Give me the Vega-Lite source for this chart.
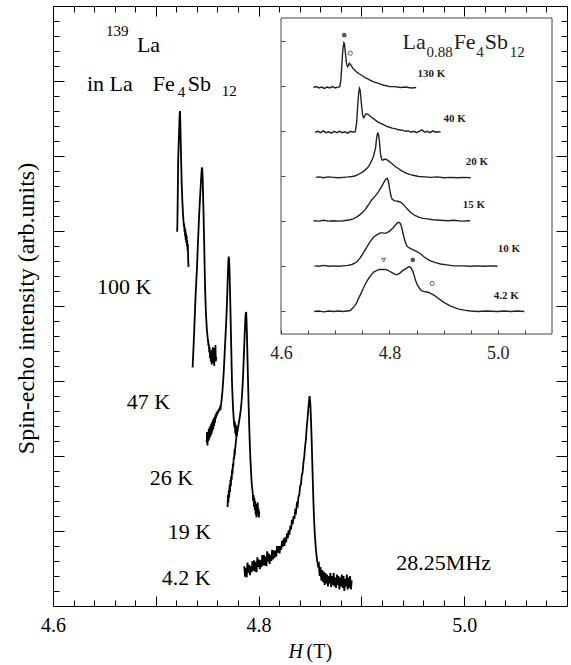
{
  "$schema": "https://vega.github.io/schema/vega-lite/v6.json",
  "width": 514,
  "height": 600,
  "autosize": {"type": "none"},
  "padding": {"left": 53, "top": 6, "right": 4, "bottom": 59},
  "background": "white",
  "config": {
    "view": {"stroke": "black", "strokeWidth": 1},
    "font": "Liberation Serif",
    "axis": {"grid": false, "domain": false, "tickColor": "black", "tickWidth": 1, "labelFont": "Liberation Serif", "labelColor": "black", "titleFont": "Liberation Serif", "titleColor": "black", "titleFontWeight": "normal", "labelOverlap": false, "labelFlush": false}
  },
  "datasets": {
    "spectra": [
      {"T":"100 K","H":4.7208,"v":4.99},{"T":"100 K","H":4.7210,"v":5.10},{"T":"100 K","H":4.7212,"v":5.30},{"T":"100 K","H":4.7214,"v":5.52},{"T":"100 K","H":4.7216,"v":5.75},{"T":"100 K","H":4.7218,"v":5.97},{"T":"100 K","H":4.7221,"v":6.10},{"T":"100 K","H":4.7224,"v":6.22},{"T":"100 K","H":4.7227,"v":6.33},{"T":"100 K","H":4.7230,"v":6.47},{"T":"100 K","H":4.7233,"v":6.58},{"T":"100 K","H":4.7235,"v":6.60},{"T":"100 K","H":4.7237,"v":6.52},{"T":"100 K","H":4.7240,"v":6.36},{"T":"100 K","H":4.7243,"v":6.15},{"T":"100 K","H":4.7246,"v":5.96},{"T":"100 K","H":4.7249,"v":5.80},{"T":"100 K","H":4.7252,"v":5.62},{"T":"100 K","H":4.7255,"v":5.52},{"T":"100 K","H":4.7258,"v":5.40},{"T":"100 K","H":4.7261,"v":5.33},{"T":"100 K","H":4.7264,"v":5.24},{"T":"100 K","H":4.7267,"v":5.18},{"T":"100 K","H":4.7270,"v":5.12},{"T":"100 K","H":4.7273,"v":5.06},{"T":"100 K","H":4.7276,"v":5.10},{"T":"100 K","H":4.7279,"v":4.99},{"T":"100 K","H":4.7282,"v":5.05},{"T":"100 K","H":4.7285,"v":4.93},{"T":"100 K","H":4.7288,"v":5.02},{"T":"100 K","H":4.7291,"v":4.88},{"T":"100 K","H":4.7294,"v":4.97},{"T":"100 K","H":4.7297,"v":4.84},{"T":"100 K","H":4.7300,"v":4.94},{"T":"100 K","H":4.7303,"v":4.80},{"T":"100 K","H":4.7306,"v":4.88},{"T":"100 K","H":4.7309,"v":4.74},{"T":"100 K","H":4.7312,"v":4.82},{"T":"100 K","H":4.7315,"v":4.62},{"T":"100 K","H":4.7318,"v":4.52},
      {"T":"47 K","H":4.7358,"v":3.18},{"T":"47 K","H":4.7362,"v":3.30},{"T":"47 K","H":4.7366,"v":3.42},{"T":"47 K","H":4.7370,"v":3.55},{"T":"47 K","H":4.7375,"v":3.72},{"T":"47 K","H":4.7380,"v":3.90},{"T":"47 K","H":4.7385,"v":4.07},{"T":"47 K","H":4.7390,"v":4.22},{"T":"47 K","H":4.7395,"v":4.36},{"T":"47 K","H":4.7400,"v":4.49},{"T":"47 K","H":4.7405,"v":4.66},{"T":"47 K","H":4.7410,"v":4.84},{"T":"47 K","H":4.7415,"v":5.00},{"T":"47 K","H":4.7420,"v":5.17},{"T":"47 K","H":4.7425,"v":5.30},{"T":"47 K","H":4.7430,"v":5.44},{"T":"47 K","H":4.7435,"v":5.55},{"T":"47 K","H":4.7440,"v":5.68},{"T":"47 K","H":4.7445,"v":5.79},{"T":"47 K","H":4.7449,"v":5.85},{"T":"47 K","H":4.7453,"v":5.80},{"T":"47 K","H":4.7457,"v":5.66},{"T":"47 K","H":4.7461,"v":5.42},{"T":"47 K","H":4.7465,"v":5.20},{"T":"47 K","H":4.7468,"v":5.00},{"T":"47 K","H":4.7471,"v":4.82},{"T":"47 K","H":4.7474,"v":4.60},{"T":"47 K","H":4.7477,"v":4.40},{"T":"47 K","H":4.7480,"v":4.22},{"T":"47 K","H":4.7484,"v":4.05},{"T":"47 K","H":4.7488,"v":3.90},{"T":"47 K","H":4.7492,"v":3.80},{"T":"47 K","H":4.7496,"v":3.70},{"T":"47 K","H":4.7500,"v":3.64},{"T":"47 K","H":4.7504,"v":3.58},{"T":"47 K","H":4.7508,"v":3.54},{"T":"47 K","H":4.7512,"v":3.47},{"T":"47 K","H":4.7516,"v":3.50},{"T":"47 K","H":4.7520,"v":3.38},{"T":"47 K","H":4.7524,"v":3.45},{"T":"47 K","H":4.7528,"v":3.30},{"T":"47 K","H":4.7532,"v":3.40},{"T":"47 K","H":4.7536,"v":3.26},{"T":"47 K","H":4.7540,"v":3.36},{"T":"47 K","H":4.7544,"v":3.22},{"T":"47 K","H":4.7548,"v":3.42},{"T":"47 K","H":4.7552,"v":3.30},{"T":"47 K","H":4.7556,"v":3.45},{"T":"47 K","H":4.7560,"v":3.24},{"T":"47 K","H":4.7564,"v":3.38},{"T":"47 K","H":4.7568,"v":3.20},{"T":"47 K","H":4.7572,"v":3.44},{"T":"47 K","H":4.7576,"v":3.28},{"T":"47 K","H":4.7580,"v":3.48},{"T":"47 K","H":4.7584,"v":3.26},{"T":"47 K","H":4.7588,"v":3.32},
      {"T":"26 K","H":4.7495,"v":2.18},{"T":"26 K","H":4.7499,"v":2.32},{"T":"26 K","H":4.7503,"v":2.14},{"T":"26 K","H":4.7507,"v":2.30},{"T":"26 K","H":4.7511,"v":2.20},{"T":"26 K","H":4.7515,"v":2.36},{"T":"26 K","H":4.7519,"v":2.22},{"T":"26 K","H":4.7523,"v":2.38},{"T":"26 K","H":4.7527,"v":2.25},{"T":"26 K","H":4.7531,"v":2.40},{"T":"26 K","H":4.7535,"v":2.27},{"T":"26 K","H":4.7539,"v":2.43},{"T":"26 K","H":4.7543,"v":2.30},{"T":"26 K","H":4.7547,"v":2.45},{"T":"26 K","H":4.7551,"v":2.33},{"T":"26 K","H":4.7555,"v":2.48},{"T":"26 K","H":4.7559,"v":2.36},{"T":"26 K","H":4.7563,"v":2.50},{"T":"26 K","H":4.7567,"v":2.40},{"T":"26 K","H":4.7571,"v":2.52},{"T":"26 K","H":4.7575,"v":2.44},{"T":"26 K","H":4.7580,"v":2.55},{"T":"26 K","H":4.7585,"v":2.50},{"T":"26 K","H":4.7590,"v":2.58},{"T":"26 K","H":4.7595,"v":2.54},{"T":"26 K","H":4.7600,"v":2.60},{"T":"26 K","H":4.7606,"v":2.57},{"T":"26 K","H":4.7612,"v":2.63},{"T":"26 K","H":4.7618,"v":2.60},{"T":"26 K","H":4.7624,"v":2.64},{"T":"26 K","H":4.7630,"v":2.62},{"T":"26 K","H":4.7636,"v":2.70},{"T":"26 K","H":4.7642,"v":2.77},{"T":"26 K","H":4.7648,"v":2.86},{"T":"26 K","H":4.7654,"v":2.97},{"T":"26 K","H":4.7660,"v":3.10},{"T":"26 K","H":4.7666,"v":3.26},{"T":"26 K","H":4.7672,"v":3.43},{"T":"26 K","H":4.7678,"v":3.60},{"T":"26 K","H":4.7684,"v":3.76},{"T":"26 K","H":4.7690,"v":3.96},{"T":"26 K","H":4.7695,"v":4.16},{"T":"26 K","H":4.7700,"v":4.38},{"T":"26 K","H":4.7705,"v":4.57},{"T":"26 K","H":4.7709,"v":4.66},{"T":"26 K","H":4.7713,"v":4.62},{"T":"26 K","H":4.7717,"v":4.48},{"T":"26 K","H":4.7721,"v":4.26},{"T":"26 K","H":4.7725,"v":4.02},{"T":"26 K","H":4.7729,"v":3.76},{"T":"26 K","H":4.7733,"v":3.50},{"T":"26 K","H":4.7737,"v":3.24},{"T":"26 K","H":4.7741,"v":3.00},{"T":"26 K","H":4.7745,"v":2.84},{"T":"26 K","H":4.7749,"v":2.72},{"T":"26 K","H":4.7753,"v":2.60},{"T":"26 K","H":4.7757,"v":2.52},{"T":"26 K","H":4.7761,"v":2.44},{"T":"26 K","H":4.7765,"v":2.38},{"T":"26 K","H":4.7769,"v":2.46},{"T":"26 K","H":4.7773,"v":2.30},{"T":"26 K","H":4.7777,"v":2.42},{"T":"26 K","H":4.7781,"v":2.26},{"T":"26 K","H":4.7785,"v":2.40},{"T":"26 K","H":4.7789,"v":2.28},{"T":"26 K","H":4.7793,"v":2.36},
      {"T":"19 K","H":4.7698,"v":1.32},{"T":"19 K","H":4.7702,"v":1.48},{"T":"19 K","H":4.7706,"v":1.38},{"T":"19 K","H":4.7710,"v":1.55},{"T":"19 K","H":4.7714,"v":1.45},{"T":"19 K","H":4.7718,"v":1.62},{"T":"19 K","H":4.7722,"v":1.52},{"T":"19 K","H":4.7726,"v":1.68},{"T":"19 K","H":4.7730,"v":1.60},{"T":"19 K","H":4.7734,"v":1.74},{"T":"19 K","H":4.7738,"v":1.68},{"T":"19 K","H":4.7742,"v":1.82},{"T":"19 K","H":4.7746,"v":1.76},{"T":"19 K","H":4.7750,"v":1.90},{"T":"19 K","H":4.7754,"v":1.86},{"T":"19 K","H":4.7758,"v":1.98},{"T":"19 K","H":4.7762,"v":1.96},{"T":"19 K","H":4.7766,"v":2.06},{"T":"19 K","H":4.7770,"v":2.05},{"T":"19 K","H":4.7775,"v":2.14},{"T":"19 K","H":4.7780,"v":2.20},{"T":"19 K","H":4.7785,"v":2.26},{"T":"19 K","H":4.7790,"v":2.30},{"T":"19 K","H":4.7795,"v":2.34},{"T":"19 K","H":4.7800,"v":2.38},{"T":"19 K","H":4.7805,"v":2.42},{"T":"19 K","H":4.7810,"v":2.46},{"T":"19 K","H":4.7815,"v":2.50},{"T":"19 K","H":4.7820,"v":2.55},{"T":"19 K","H":4.7825,"v":2.60},{"T":"19 K","H":4.7830,"v":2.66},{"T":"19 K","H":4.7835,"v":2.74},{"T":"19 K","H":4.7840,"v":2.84},{"T":"19 K","H":4.7845,"v":2.96},{"T":"19 K","H":4.7850,"v":3.10},{"T":"19 K","H":4.7855,"v":3.28},{"T":"19 K","H":4.7860,"v":3.46},{"T":"19 K","H":4.7865,"v":3.64},{"T":"19 K","H":4.7870,"v":3.80},{"T":"19 K","H":4.7875,"v":3.90},{"T":"19 K","H":4.7879,"v":3.92},{"T":"19 K","H":4.7883,"v":3.80},{"T":"19 K","H":4.7887,"v":3.60},{"T":"19 K","H":4.7891,"v":3.36},{"T":"19 K","H":4.7895,"v":3.12},{"T":"19 K","H":4.7899,"v":2.90},{"T":"19 K","H":4.7903,"v":2.68},{"T":"19 K","H":4.7907,"v":2.48},{"T":"19 K","H":4.7911,"v":2.30},{"T":"19 K","H":4.7915,"v":2.14},{"T":"19 K","H":4.7919,"v":2.00},{"T":"19 K","H":4.7923,"v":1.88},{"T":"19 K","H":4.7927,"v":1.78},{"T":"19 K","H":4.7931,"v":1.68},{"T":"19 K","H":4.7935,"v":1.60},{"T":"19 K","H":4.7939,"v":1.56},{"T":"19 K","H":4.7943,"v":1.50},{"T":"19 K","H":4.7947,"v":1.40},{"T":"19 K","H":4.7951,"v":1.48},{"T":"19 K","H":4.7955,"v":1.32},{"T":"19 K","H":4.7959,"v":1.44},{"T":"19 K","H":4.7963,"v":1.28},{"T":"19 K","H":4.7967,"v":1.40},{"T":"19 K","H":4.7971,"v":1.22},{"T":"19 K","H":4.7975,"v":1.36},{"T":"19 K","H":4.7979,"v":1.18},{"T":"19 K","H":4.7983,"v":1.34},{"T":"19 K","H":4.7987,"v":1.20},{"T":"19 K","H":4.7991,"v":1.38},{"T":"19 K","H":4.7995,"v":1.24},{"T":"19 K","H":4.7999,"v":1.30},{"T":"19 K","H":4.8003,"v":1.18},{"T":"19 K","H":4.8007,"v":1.26},
      {"T":"4.2 K","H":4.7860,"v":0.53},{"T":"4.2 K","H":4.7868,"v":0.39},{"T":"4.2 K","H":4.7876,"v":0.51},{"T":"4.2 K","H":4.7884,"v":0.38},{"T":"4.2 K","H":4.7892,"v":0.58},{"T":"4.2 K","H":4.7900,"v":0.44},{"T":"4.2 K","H":4.7908,"v":0.55},{"T":"4.2 K","H":4.7916,"v":0.41},{"T":"4.2 K","H":4.7924,"v":0.53},{"T":"4.2 K","H":4.7932,"v":0.45},{"T":"4.2 K","H":4.7940,"v":0.60},{"T":"4.2 K","H":4.7948,"v":0.47},{"T":"4.2 K","H":4.7956,"v":0.61},{"T":"4.2 K","H":4.7964,"v":0.46},{"T":"4.2 K","H":4.7972,"v":0.59},{"T":"4.2 K","H":4.7980,"v":0.45},{"T":"4.2 K","H":4.7988,"v":0.65},{"T":"4.2 K","H":4.7996,"v":0.52},{"T":"4.2 K","H":4.8004,"v":0.62},{"T":"4.2 K","H":4.8012,"v":0.49},{"T":"4.2 K","H":4.8020,"v":0.61},{"T":"4.2 K","H":4.8028,"v":0.52},{"T":"4.2 K","H":4.8036,"v":0.68},{"T":"4.2 K","H":4.8044,"v":0.54},{"T":"4.2 K","H":4.8052,"v":0.68},{"T":"4.2 K","H":4.8060,"v":0.54},{"T":"4.2 K","H":4.8068,"v":0.66},{"T":"4.2 K","H":4.8076,"v":0.53},{"T":"4.2 K","H":4.8084,"v":0.73},{"T":"4.2 K","H":4.8092,"v":0.59},{"T":"4.2 K","H":4.8100,"v":0.70},{"T":"4.2 K","H":4.8108,"v":0.56},{"T":"4.2 K","H":4.8116,"v":0.68},{"T":"4.2 K","H":4.8124,"v":0.60},{"T":"4.2 K","H":4.8132,"v":0.75},{"T":"4.2 K","H":4.8140,"v":0.62},{"T":"4.2 K","H":4.8148,"v":0.74},{"T":"4.2 K","H":4.8156,"v":0.64},{"T":"4.2 K","H":4.8164,"v":0.74},{"T":"4.2 K","H":4.8172,"v":0.66},{"T":"4.2 K","H":4.8180,"v":0.80},{"T":"4.2 K","H":4.8188,"v":0.71},{"T":"4.2 K","H":4.8196,"v":0.80},{"T":"4.2 K","H":4.8204,"v":0.70},{"T":"4.2 K","H":4.8212,"v":0.80},{"T":"4.2 K","H":4.8220,"v":0.75},{"T":"4.2 K","H":4.8228,"v":0.87},{"T":"4.2 K","H":4.8236,"v":0.79},{"T":"4.2 K","H":4.8244,"v":0.90},{"T":"4.2 K","H":4.8252,"v":0.80},{"T":"4.2 K","H":4.8260,"v":0.92},{"T":"4.2 K","H":4.8268,"v":0.85},{"T":"4.2 K","H":4.8276,"v":0.97},{"T":"4.2 K","H":4.8284,"v":0.90},{"T":"4.2 K","H":4.8292,"v":1.01},{"T":"4.2 K","H":4.8300,"v":0.95},{"T":"4.2 K","H":4.8308,"v":1.07},{"T":"4.2 K","H":4.8316,"v":1.02},{"T":"4.2 K","H":4.8324,"v":1.15},{"T":"4.2 K","H":4.8332,"v":1.09},{"T":"4.2 K","H":4.8340,"v":1.20},{"T":"4.2 K","H":4.8348,"v":1.16},{"T":"4.2 K","H":4.8356,"v":1.27},{"T":"4.2 K","H":4.8364,"v":1.25},{"T":"4.2 K","H":4.8372,"v":1.36},{"T":"4.2 K","H":4.8380,"v":1.34},{"T":"4.2 K","H":4.8388,"v":1.46},{"T":"4.2 K","H":4.8396,"v":1.48},{"T":"4.2 K","H":4.8404,"v":1.60},{"T":"4.2 K","H":4.8412,"v":1.62},{"T":"4.2 K","H":4.8420,"v":1.74},{"T":"4.2 K","H":4.8428,"v":1.78},{"T":"4.2 K","H":4.8436,"v":1.91},{"T":"4.2 K","H":4.8444,"v":1.99},{"T":"4.2 K","H":4.8452,"v":2.12},{"T":"4.2 K","H":4.8460,"v":2.22},{"T":"4.2 K","H":4.8468,"v":2.38},{"T":"4.2 K","H":4.8476,"v":2.49},{"T":"4.2 K","H":4.8484,"v":2.64},{"T":"4.2 K","H":4.8490,"v":2.72},{"T":"4.2 K","H":4.8495,"v":2.80},{"T":"4.2 K","H":4.8500,"v":2.76},{"T":"4.2 K","H":4.8505,"v":2.64},{"T":"4.2 K","H":4.8510,"v":2.46},{"T":"4.2 K","H":4.8515,"v":2.26},{"T":"4.2 K","H":4.8520,"v":2.02},{"T":"4.2 K","H":4.8525,"v":1.78},{"T":"4.2 K","H":4.8530,"v":1.54},{"T":"4.2 K","H":4.8535,"v":1.32},{"T":"4.2 K","H":4.8540,"v":1.14},{"T":"4.2 K","H":4.8547,"v":0.95},{"T":"4.2 K","H":4.8555,"v":0.80},{"T":"4.2 K","H":4.8563,"v":0.68},{"T":"4.2 K","H":4.8570,"v":0.60},{"T":"4.2 K","H":4.8578,"v":0.54},{"T":"4.2 K","H":4.8586,"v":0.56},{"T":"4.2 K","H":4.8594,"v":0.40},{"T":"4.2 K","H":4.8602,"v":0.52},{"T":"4.2 K","H":4.8610,"v":0.34},{"T":"4.2 K","H":4.8618,"v":0.48},{"T":"4.2 K","H":4.8626,"v":0.32},{"T":"4.2 K","H":4.8634,"v":0.46},{"T":"4.2 K","H":4.8642,"v":0.28},{"T":"4.2 K","H":4.8650,"v":0.44},{"T":"4.2 K","H":4.8658,"v":0.30},{"T":"4.2 K","H":4.8666,"v":0.42},{"T":"4.2 K","H":4.8674,"v":0.26},{"T":"4.2 K","H":4.8682,"v":0.40},{"T":"4.2 K","H":4.8690,"v":0.30},{"T":"4.2 K","H":4.8698,"v":0.44},{"T":"4.2 K","H":4.8706,"v":0.25},{"T":"4.2 K","H":4.8714,"v":0.40},{"T":"4.2 K","H":4.8722,"v":0.28},{"T":"4.2 K","H":4.8730,"v":0.44},{"T":"4.2 K","H":4.8738,"v":0.26},{"T":"4.2 K","H":4.8746,"v":0.38},{"T":"4.2 K","H":4.8754,"v":0.24},{"T":"4.2 K","H":4.8762,"v":0.42},{"T":"4.2 K","H":4.8770,"v":0.28},{"T":"4.2 K","H":4.8778,"v":0.40},{"T":"4.2 K","H":4.8786,"v":0.22},{"T":"4.2 K","H":4.8794,"v":0.38},{"T":"4.2 K","H":4.8802,"v":0.26},{"T":"4.2 K","H":4.8810,"v":0.42},{"T":"4.2 K","H":4.8818,"v":0.24},{"T":"4.2 K","H":4.8826,"v":0.40},{"T":"4.2 K","H":4.8834,"v":0.20},{"T":"4.2 K","H":4.8842,"v":0.36},{"T":"4.2 K","H":4.8850,"v":0.26},{"T":"4.2 K","H":4.8858,"v":0.42},{"T":"4.2 K","H":4.8866,"v":0.22},{"T":"4.2 K","H":4.8874,"v":0.38},{"T":"4.2 K","H":4.8882,"v":0.24},{"T":"4.2 K","H":4.8890,"v":0.40},{"T":"4.2 K","H":4.8898,"v":0.22},{"T":"4.2 K","H":4.8906,"v":0.34}
    ],
    "mainLabels": [
      {"label":"100 K","H":4.6427,"v":4.25},
      {"label":"47 K","H":4.6718,"v":2.72},
      {"label":"26 K","H":4.6942,"v":1.71},
      {"label":"19 K","H":4.7117,"v":0.99},
      {"label":"4.2 K","H":4.7058,"v":0.37},
      {"label":"28.25MHz","H":4.934,"v":0.57},
      {"label":"La","H":4.6816,"v":7.48},
      {"label":"in La","H":4.633,"v":6.96},
      {"label":"Fe","H":4.6971,"v":6.96},
      {"label":"Sb","H":4.7311,"v":6.96}
    ],
    "mainScripts": [
      {"label":"139","H":4.6515,"v":7.667},
      {"label":"4","H":4.7214,"v":6.853},
      {"label":"12","H":4.7641,"v":6.867}
    ],
    "inset": [
      {"T":"130 K","H":4.6599,"v":4.96},{"T":"130 K","H":4.6650,"v":4.98},{"T":"130 K","H":4.6700,"v":4.95},{"T":"130 K","H":4.6750,"v":4.97},{"T":"130 K","H":4.6800,"v":4.94},{"T":"130 K","H":4.6850,"v":4.97},{"T":"130 K","H":4.6900,"v":4.95},{"T":"130 K","H":4.6950,"v":4.98},{"T":"130 K","H":4.7000,"v":4.95},{"T":"130 K","H":4.7050,"v":4.97},{"T":"130 K","H":4.7085,"v":4.98},{"T":"130 K","H":4.7105,"v":5.13},{"T":"130 K","H":4.7120,"v":5.40},{"T":"130 K","H":4.7135,"v":5.70},{"T":"130 K","H":4.7148,"v":5.87},{"T":"130 K","H":4.7160,"v":5.95},{"T":"130 K","H":4.7170,"v":5.93},{"T":"130 K","H":4.7180,"v":5.82},{"T":"130 K","H":4.7191,"v":5.70},{"T":"130 K","H":4.7205,"v":5.52},{"T":"130 K","H":4.7216,"v":5.46},{"T":"130 K","H":4.7230,"v":5.42},{"T":"130 K","H":4.7245,"v":5.45},{"T":"130 K","H":4.7262,"v":5.50},{"T":"130 K","H":4.7280,"v":5.47},{"T":"130 K","H":4.7300,"v":5.44},{"T":"130 K","H":4.7320,"v":5.40},{"T":"130 K","H":4.7340,"v":5.37},{"T":"130 K","H":4.7370,"v":5.33},{"T":"130 K","H":4.7400,"v":5.30},{"T":"130 K","H":4.7450,"v":5.26},{"T":"130 K","H":4.7500,"v":5.22},{"T":"130 K","H":4.7550,"v":5.18},{"T":"130 K","H":4.7600,"v":5.15},{"T":"130 K","H":4.7650,"v":5.12},{"T":"130 K","H":4.7700,"v":5.09},{"T":"130 K","H":4.7750,"v":5.07},{"T":"130 K","H":4.7800,"v":5.05},{"T":"130 K","H":4.7850,"v":5.03},{"T":"130 K","H":4.7900,"v":5.01},{"T":"130 K","H":4.7950,"v":5.00},{"T":"130 K","H":4.8000,"v":4.98},{"T":"130 K","H":4.8100,"v":4.98},{"T":"130 K","H":4.8200,"v":4.96},{"T":"130 K","H":4.8300,"v":4.97},{"T":"130 K","H":4.8400,"v":4.95},{"T":"130 K","H":4.8494,"v":4.96},
      {"T":"40 K","H":4.6630,"v":3.97},{"T":"40 K","H":4.6680,"v":3.99},{"T":"40 K","H":4.6730,"v":3.96},{"T":"40 K","H":4.6780,"v":4.00},{"T":"40 K","H":4.6830,"v":3.96},{"T":"40 K","H":4.6880,"v":3.98},{"T":"40 K","H":4.6930,"v":3.95},{"T":"40 K","H":4.6980,"v":3.99},{"T":"40 K","H":4.7030,"v":3.96},{"T":"40 K","H":4.7080,"v":3.99},{"T":"40 K","H":4.7130,"v":3.96},{"T":"40 K","H":4.7180,"v":3.98},{"T":"40 K","H":4.7230,"v":3.95},{"T":"40 K","H":4.7280,"v":3.99},{"T":"40 K","H":4.7330,"v":3.97},{"T":"40 K","H":4.7370,"v":3.98},{"T":"40 K","H":4.7395,"v":4.17},{"T":"40 K","H":4.7414,"v":4.53},{"T":"40 K","H":4.7432,"v":4.83},{"T":"40 K","H":4.7447,"v":4.94},{"T":"40 K","H":4.7460,"v":4.90},{"T":"40 K","H":4.7472,"v":4.76},{"T":"40 K","H":4.7490,"v":4.52},{"T":"40 K","H":4.7506,"v":4.36},{"T":"40 K","H":4.7520,"v":4.29},{"T":"40 K","H":4.7535,"v":4.30},{"T":"40 K","H":4.7550,"v":4.34},{"T":"40 K","H":4.7570,"v":4.38},{"T":"40 K","H":4.7590,"v":4.37},{"T":"40 K","H":4.7615,"v":4.36},{"T":"40 K","H":4.7640,"v":4.33},{"T":"40 K","H":4.7680,"v":4.29},{"T":"40 K","H":4.7720,"v":4.26},{"T":"40 K","H":4.7760,"v":4.22},{"T":"40 K","H":4.7800,"v":4.19},{"T":"40 K","H":4.7850,"v":4.16},{"T":"40 K","H":4.7900,"v":4.13},{"T":"40 K","H":4.7950,"v":4.10},{"T":"40 K","H":4.8000,"v":4.08},{"T":"40 K","H":4.8050,"v":4.06},{"T":"40 K","H":4.8100,"v":4.05},{"T":"40 K","H":4.8150,"v":4.03},{"T":"40 K","H":4.8200,"v":4.02},{"T":"40 K","H":4.8250,"v":4.01},{"T":"40 K","H":4.8300,"v":3.99},{"T":"40 K","H":4.8350,"v":4.00},{"T":"40 K","H":4.8400,"v":3.97},{"T":"40 K","H":4.8450,"v":3.99},{"T":"40 K","H":4.8500,"v":3.96},{"T":"40 K","H":4.8550,"v":3.99},{"T":"40 K","H":4.8600,"v":4.02},{"T":"40 K","H":4.8650,"v":3.97},{"T":"40 K","H":4.8700,"v":3.99},{"T":"40 K","H":4.8750,"v":3.96},{"T":"40 K","H":4.8800,"v":4.00},{"T":"40 K","H":4.8850,"v":3.97},{"T":"40 K","H":4.8944,"v":3.98},
      {"T":"20 K","H":4.6642,"v":2.97},{"T":"20 K","H":4.6700,"v":2.98},{"T":"20 K","H":4.6784,"v":2.96},{"T":"20 K","H":4.6870,"v":2.98},{"T":"20 K","H":4.6969,"v":2.97},{"T":"20 K","H":4.7060,"v":2.96},{"T":"20 K","H":4.7154,"v":2.97},{"T":"20 K","H":4.7240,"v":2.98},{"T":"20 K","H":4.7309,"v":2.99},{"T":"20 K","H":4.7360,"v":3.00},{"T":"20 K","H":4.7401,"v":3.02},{"T":"20 K","H":4.7450,"v":3.05},{"T":"20 K","H":4.7494,"v":3.08},{"T":"20 K","H":4.7540,"v":3.12},{"T":"20 K","H":4.7586,"v":3.17},{"T":"20 K","H":4.7620,"v":3.22},{"T":"20 K","H":4.7648,"v":3.28},{"T":"20 K","H":4.7680,"v":3.36},{"T":"20 K","H":4.7710,"v":3.45},{"T":"20 K","H":4.7730,"v":3.55},{"T":"20 K","H":4.7747,"v":3.64},{"T":"20 K","H":4.7760,"v":3.80},{"T":"20 K","H":4.7772,"v":3.90},{"T":"20 K","H":4.7785,"v":3.95},{"T":"20 K","H":4.7796,"v":3.94},{"T":"20 K","H":4.7808,"v":3.85},{"T":"20 K","H":4.7821,"v":3.70},{"T":"20 K","H":4.7833,"v":3.52},{"T":"20 K","H":4.7846,"v":3.42},{"T":"20 K","H":4.7858,"v":3.37},{"T":"20 K","H":4.7870,"v":3.35},{"T":"20 K","H":4.7890,"v":3.36},{"T":"20 K","H":4.7910,"v":3.37},{"T":"20 K","H":4.7935,"v":3.37},{"T":"20 K","H":4.7957,"v":3.36},{"T":"20 K","H":4.7990,"v":3.33},{"T":"20 K","H":4.8019,"v":3.30},{"T":"20 K","H":4.8050,"v":3.27},{"T":"20 K","H":4.8080,"v":3.24},{"T":"20 K","H":4.8120,"v":3.20},{"T":"20 K","H":4.8173,"v":3.16},{"T":"20 K","H":4.8220,"v":3.12},{"T":"20 K","H":4.8265,"v":3.09},{"T":"20 K","H":4.8320,"v":3.06},{"T":"20 K","H":4.8389,"v":3.03},{"T":"20 K","H":4.8460,"v":3.01},{"T":"20 K","H":4.8543,"v":2.99},{"T":"20 K","H":4.8650,"v":2.98},{"T":"20 K","H":4.8759,"v":2.97},{"T":"20 K","H":4.8880,"v":2.98},{"T":"20 K","H":4.9006,"v":2.96},{"T":"20 K","H":4.9130,"v":2.97},{"T":"20 K","H":4.9253,"v":2.96},{"T":"20 K","H":4.9370,"v":2.97},{"T":"20 K","H":4.9500,"v":2.96},
      {"T":"15 K","H":4.6599,"v":2.01},{"T":"15 K","H":4.6700,"v":2.00},{"T":"15 K","H":4.6784,"v":2.02},{"T":"15 K","H":4.6880,"v":2.00},{"T":"15 K","H":4.6969,"v":2.01},{"T":"15 K","H":4.7060,"v":2.00},{"T":"15 K","H":4.7154,"v":2.01},{"T":"15 K","H":4.7220,"v":2.02},{"T":"15 K","H":4.7278,"v":2.03},{"T":"15 K","H":4.7330,"v":2.05},{"T":"15 K","H":4.7370,"v":2.07},{"T":"15 K","H":4.7420,"v":2.11},{"T":"15 K","H":4.7463,"v":2.15},{"T":"15 K","H":4.7510,"v":2.20},{"T":"15 K","H":4.7556,"v":2.26},{"T":"15 K","H":4.7595,"v":2.33},{"T":"15 K","H":4.7630,"v":2.39},{"T":"15 K","H":4.7655,"v":2.44},{"T":"15 K","H":4.7679,"v":2.48},{"T":"15 K","H":4.7710,"v":2.52},{"T":"15 K","H":4.7741,"v":2.56},{"T":"15 K","H":4.7772,"v":2.61},{"T":"15 K","H":4.7802,"v":2.66},{"T":"15 K","H":4.7833,"v":2.72},{"T":"15 K","H":4.7864,"v":2.78},{"T":"15 K","H":4.7890,"v":2.84},{"T":"15 K","H":4.7914,"v":2.89},{"T":"15 K","H":4.7935,"v":2.93},{"T":"15 K","H":4.7957,"v":2.95},{"T":"15 K","H":4.7972,"v":2.92},{"T":"15 K","H":4.7988,"v":2.84},{"T":"15 K","H":4.8003,"v":2.72},{"T":"15 K","H":4.8019,"v":2.62},{"T":"15 K","H":4.8035,"v":2.53},{"T":"15 K","H":4.8050,"v":2.49},{"T":"15 K","H":4.8080,"v":2.46},{"T":"15 K","H":4.8111,"v":2.45},{"T":"15 K","H":4.8150,"v":2.44},{"T":"15 K","H":4.8204,"v":2.42},{"T":"15 K","H":4.8240,"v":2.39},{"T":"15 K","H":4.8265,"v":2.36},{"T":"15 K","H":4.8300,"v":2.31},{"T":"15 K","H":4.8340,"v":2.26},{"T":"15 K","H":4.8380,"v":2.21},{"T":"15 K","H":4.8420,"v":2.17},{"T":"15 K","H":4.8480,"v":2.12},{"T":"15 K","H":4.8543,"v":2.09},{"T":"15 K","H":4.8620,"v":2.06},{"T":"15 K","H":4.8698,"v":2.05},{"T":"15 K","H":4.8800,"v":2.03},{"T":"15 K","H":4.8944,"v":2.02},{"T":"15 K","H":4.9080,"v":2.01},{"T":"15 K","H":4.9191,"v":2.02},{"T":"15 K","H":4.9330,"v":2.00},{"T":"15 K","H":4.9488,"v":2.01},
      {"T":"10 K","H":4.6617,"v":1.01},{"T":"10 K","H":4.6700,"v":1.00},{"T":"10 K","H":4.6784,"v":1.02},{"T":"10 K","H":4.6880,"v":1.00},{"T":"10 K","H":4.6969,"v":1.01},{"T":"10 K","H":4.7060,"v":1.00},{"T":"10 K","H":4.7154,"v":1.01},{"T":"10 K","H":4.7230,"v":1.02},{"T":"10 K","H":4.7309,"v":1.04},{"T":"10 K","H":4.7360,"v":1.07},{"T":"10 K","H":4.7401,"v":1.10},{"T":"10 K","H":4.7450,"v":1.17},{"T":"10 K","H":4.7494,"v":1.25},{"T":"10 K","H":4.7540,"v":1.34},{"T":"10 K","H":4.7586,"v":1.43},{"T":"10 K","H":4.7630,"v":1.52},{"T":"10 K","H":4.7679,"v":1.60},{"T":"10 K","H":4.7720,"v":1.66},{"T":"10 K","H":4.7759,"v":1.69},{"T":"10 K","H":4.7800,"v":1.72},{"T":"10 K","H":4.7833,"v":1.74},{"T":"10 K","H":4.7880,"v":1.74},{"T":"10 K","H":4.7926,"v":1.73},{"T":"10 K","H":4.7965,"v":1.75},{"T":"10 K","H":4.8006,"v":1.78},{"T":"10 K","H":4.8040,"v":1.82},{"T":"10 K","H":4.8068,"v":1.85},{"T":"10 K","H":4.8100,"v":1.90},{"T":"10 K","H":4.8130,"v":1.94},{"T":"10 K","H":4.8160,"v":1.97},{"T":"10 K","H":4.8185,"v":1.97},{"T":"10 K","H":4.8205,"v":1.94},{"T":"10 K","H":4.8222,"v":1.88},{"T":"10 K","H":4.8245,"v":1.76},{"T":"10 K","H":4.8265,"v":1.66},{"T":"10 K","H":4.8290,"v":1.55},{"T":"10 K","H":4.8315,"v":1.47},{"T":"10 K","H":4.8345,"v":1.42},{"T":"10 K","H":4.8377,"v":1.40},{"T":"10 K","H":4.8410,"v":1.38},{"T":"10 K","H":4.8451,"v":1.36},{"T":"10 K","H":4.8500,"v":1.33},{"T":"10 K","H":4.8543,"v":1.30},{"T":"10 K","H":4.8590,"v":1.26},{"T":"10 K","H":4.8636,"v":1.21},{"T":"10 K","H":4.8700,"v":1.16},{"T":"10 K","H":4.8759,"v":1.12},{"T":"10 K","H":4.8850,"v":1.08},{"T":"10 K","H":4.8944,"v":1.05},{"T":"10 K","H":4.9060,"v":1.03},{"T":"10 K","H":4.9191,"v":1.01},{"T":"10 K","H":4.9350,"v":1.01},{"T":"10 K","H":4.9500,"v":1.00},{"T":"10 K","H":4.9620,"v":1.01},{"T":"10 K","H":4.9747,"v":1.00},{"T":"10 K","H":4.9870,"v":1.01},{"T":"10 K","H":4.9994,"v":1.00},
      {"T":"4.2 K","H":4.6611,"v":0.00},{"T":"4.2 K","H":4.6700,"v":0.01},{"T":"4.2 K","H":4.6784,"v":-0.01},{"T":"4.2 K","H":4.6880,"v":0.01},{"T":"4.2 K","H":4.6969,"v":0.00},{"T":"4.2 K","H":4.7060,"v":0.01},{"T":"4.2 K","H":4.7154,"v":0.00},{"T":"4.2 K","H":4.7220,"v":0.01},{"T":"4.2 K","H":4.7278,"v":0.02},{"T":"4.2 K","H":4.7330,"v":0.08},{"T":"4.2 K","H":4.7370,"v":0.14},{"T":"4.2 K","H":4.7400,"v":0.20},{"T":"4.2 K","H":4.7432,"v":0.29},{"T":"4.2 K","H":4.7480,"v":0.41},{"T":"4.2 K","H":4.7525,"v":0.53},{"T":"4.2 K","H":4.7570,"v":0.64},{"T":"4.2 K","H":4.7617,"v":0.73},{"T":"4.2 K","H":4.7665,"v":0.81},{"T":"4.2 K","H":4.7710,"v":0.87},{"T":"4.2 K","H":4.7740,"v":0.89},{"T":"4.2 K","H":4.7772,"v":0.91},{"T":"4.2 K","H":4.7820,"v":0.93},{"T":"4.2 K","H":4.7864,"v":0.93},{"T":"4.2 K","H":4.7910,"v":0.93},{"T":"4.2 K","H":4.7957,"v":0.92},{"T":"4.2 K","H":4.8003,"v":0.89},{"T":"4.2 K","H":4.8049,"v":0.86},{"T":"4.2 K","H":4.8090,"v":0.83},{"T":"4.2 K","H":4.8130,"v":0.81},{"T":"4.2 K","H":4.8170,"v":0.83},{"T":"4.2 K","H":4.8204,"v":0.86},{"T":"4.2 K","H":4.8240,"v":0.90},{"T":"4.2 K","H":4.8278,"v":0.93},{"T":"4.2 K","H":4.8320,"v":0.96},{"T":"4.2 K","H":4.8355,"v":0.99},{"T":"4.2 K","H":4.8385,"v":0.98},{"T":"4.2 K","H":4.8415,"v":0.93},{"T":"4.2 K","H":4.8440,"v":0.86},{"T":"4.2 K","H":4.8463,"v":0.77},{"T":"4.2 K","H":4.8490,"v":0.66},{"T":"4.2 K","H":4.8512,"v":0.60},{"T":"4.2 K","H":4.8545,"v":0.53},{"T":"4.2 K","H":4.8574,"v":0.48},{"T":"4.2 K","H":4.8610,"v":0.45},{"T":"4.2 K","H":4.8648,"v":0.44},{"T":"4.2 K","H":4.8690,"v":0.43},{"T":"4.2 K","H":4.8728,"v":0.42},{"T":"4.2 K","H":4.8775,"v":0.39},{"T":"4.2 K","H":4.8821,"v":0.36},{"T":"4.2 K","H":4.8870,"v":0.32},{"T":"4.2 K","H":4.8914,"v":0.28},{"T":"4.2 K","H":4.8970,"v":0.23},{"T":"4.2 K","H":4.9037,"v":0.18},{"T":"4.2 K","H":4.9110,"v":0.13},{"T":"4.2 K","H":4.9191,"v":0.09},{"T":"4.2 K","H":4.9280,"v":0.05},{"T":"4.2 K","H":4.9377,"v":0.03},{"T":"4.2 K","H":4.9500,"v":0.01},{"T":"4.2 K","H":4.9623,"v":0.00},{"T":"4.2 K","H":4.9800,"v":0.01},{"T":"4.2 K","H":4.9994,"v":0.00},{"T":"4.2 K","H":5.0120,"v":0.01},{"T":"4.2 K","H":5.0241,"v":0.00},{"T":"4.2 K","H":5.0360,"v":0.01},{"T":"4.2 K","H":5.0488,"v":0.00}
    ],
    "insetLabels": [
      {"label":"130 K","H":4.8519,"v":5.27},
      {"label":"40 K","H":4.9000,"v":4.27},
      {"label":"20 K","H":4.9407,"v":3.31},
      {"label":"15 K","H":4.9352,"v":2.36},
      {"label":"10 K","H":5.0000,"v":1.38},
      {"label":"4.2 K","H":4.9926,"v":0.34}
    ],
    "insetTitle": [
      {"label":"La","H":4.8241,"v":5.97},
      {"label":"Fe","H":4.9185,"v":5.97},
      {"label":"Sb","H":4.9759,"v":5.97}
    ],
    "insetScripts": [
      {"label":"0.88","H":4.8685,"v":5.75},
      {"label":"4","H":4.9602,"v":5.75},
      {"label":"12","H":5.0222,"v":5.75}
    ],
    "sites": [
      {"site":"filled","H":4.7167,"v":6.12},
      {"site":"open","H":4.7278,"v":5.72},
      {"site":"filled","H":4.8432,"v":1.14},
      {"site":"open","H":4.8790,"v":0.62},
      {"site":"triangle","H":4.7895,"v":1.14}
    ]
  },
  "layer": [
    {
      "resolve": {"axis": {"x": "independent", "y": "independent"}},
      "layer": [
        {
          "data": {"name": "spectra"},
          "mark": {"type": "line", "color": "black", "strokeWidth": 1.8},
          "encoding": {
            "x": {"field": "H", "type": "quantitative", "scale": {"domain": [4.6, 5.1], "nice": false, "zero": false},
              "axis": {"orient": "bottom", "values": [4.6, 4.8, 5.0], "format": ".1f", "ticks": false, "labelFontSize": 20, "labelPadding": 9, "title": null}},
            "y": {"field": "v", "type": "quantitative", "scale": {"domain": [0, 8], "nice": false, "zero": false},
              "axis": {"orient": "left", "values": [1, 2, 3, 4, 5, 6, 7], "tickSize": -11, "labels": false, "title": "Spin-echo intensity (arb.units)", "titleFontSize": 24, "titleX": -27, "titleY": 302, "titleAngle": -90, "titleAlign": "center", "titleBaseline": "middle"}},
            "detail": {"field": "T"}
          }
        },
        {
          "data": {"name": "mainLabels"},
          "mark": {"type": "text", "align": "left", "baseline": "middle", "fontSize": 22, "font": "Liberation Serif", "color": "black"},
          "encoding": {
            "x": {"field": "H", "type": "quantitative",
              "axis": {"orient": "bottom", "values": [4.7, 4.8, 4.9, 5.0], "tickSize": -10, "labels": false, "title": null}},
            "y": {"field": "v", "type": "quantitative",
              "axis": {"orient": "left", "values": [0.2,0.4,0.6,0.8,1.2,1.4,1.6,1.8,2.2,2.4,2.6,2.8,3.2,3.4,3.6,3.8,4.2,4.4,4.6,4.8,5.2,5.4,5.6,5.8,6.2,6.4,6.6,6.8,7.2,7.4,7.6,7.8], "tickSize": -6, "labels": false, "title": null}},
            "text": {"field": "label"}
          }
        },
        {
          "data": {"name": "mainScripts"},
          "mark": {"type": "text", "align": "left", "baseline": "middle", "fontSize": 15, "font": "Liberation Serif", "color": "black"},
          "encoding": {
            "x": {"field": "H", "type": "quantitative",
              "axis": {"orient": "bottom", "values": [4.62,4.64,4.66,4.68,4.72,4.74,4.76,4.78,4.82,4.84,4.86,4.88,4.92,4.94,4.96,4.98,5.02,5.04,5.06,5.08], "tickSize": -6, "labels": false, "title": null}},
            "y": {"field": "v", "type": "quantitative",
              "axis": {"orient": "right", "values": [1, 2, 3, 4, 5, 6, 7], "tickSize": -11, "labels": false, "title": null}},
            "text": {"field": "label"}
          }
        },
        {
          "data": {"values": [{"label": "H", "H": 4.8291, "v": -0.61}]},
          "mark": {"type": "text", "align": "left", "baseline": "middle", "fontSize": 20, "fontStyle": "italic", "font": "Liberation Serif", "color": "black"},
          "encoding": {
            "x": {"field": "H", "type": "quantitative",
              "axis": {"orient": "top", "values": [4.7, 4.8, 4.9, 5.0], "tickSize": -10, "labels": false, "title": null}},
            "y": {"field": "v", "type": "quantitative",
              "axis": {"orient": "right", "values": [0.2,0.4,0.6,0.8,1.2,1.4,1.6,1.8,2.2,2.4,2.6,2.8,3.2,3.4,3.6,3.8,4.2,4.4,4.6,4.8,5.2,5.4,5.6,5.8,6.2,6.4,6.6,6.8,7.2,7.4,7.6,7.8], "tickSize": -6, "labels": false, "title": null}},
            "text": {"field": "label"}
          }
        },
        {
          "data": {"values": [{"label": "(T)", "H": 4.8466, "v": -0.61}]},
          "mark": {"type": "text", "align": "left", "baseline": "middle", "fontSize": 20, "font": "Liberation Serif", "color": "black"},
          "encoding": {
            "x": {"field": "H", "type": "quantitative",
              "axis": {"orient": "top", "values": [4.62,4.64,4.66,4.68,4.72,4.74,4.76,4.78,4.82,4.84,4.86,4.88,4.92,4.94,4.96,4.98,5.02,5.04,5.06,5.08], "tickSize": -6, "labels": false, "title": null}},
            "y": {"field": "v", "type": "quantitative", "axis": null},
            "text": {"field": "label"}
          }
        }
      ]
    },
    {
      "resolve": {"axis": {"x": "independent", "y": "independent"}},
      "layer": [
        {
          "data": {"name": "inset"},
          "mark": {"type": "line", "color": "#222", "strokeWidth": 1.4},
          "encoding": {
            "x": {"field": "H", "type": "quantitative", "scale": {"domain": [4.6, 5.1], "range": [228, 499], "nice": false, "zero": false},
              "axis": {"orient": "bottom", "offset": -272, "values": [4.6,4.65,4.7,4.75,4.8,4.85,4.9,4.95,5.0,5.05], "tickSize": -4, "tickColor": "#444", "labelExpr": "abs(datum.value - 4.6) < 0.001 || abs(datum.value - 4.8) < 0.001 || abs(datum.value - 5.0) < 0.001 ? format(datum.value, '.1f') : ''", "labelFontSize": 18, "labelPadding": 14, "labelColor": "#222", "title": null}},
            "y": {"field": "v", "type": "quantitative", "scale": {"domain": [-0.5, 6.5], "range": [328, 12], "nice": false, "zero": false},
              "axis": {"orient": "left", "offset": -228, "values": [0, 1, 2, 3, 4, 5, 6], "tickSize": -4, "tickColor": "#444", "labels": false, "title": null}},
            "detail": {"field": "T"}
          }
        },
        {
          "data": {"values": [{}]},
          "mark": {"type": "rect", "filled": false, "color": "#444", "strokeWidth": 1},
          "encoding": {
            "x": {"datum": 4.6, "type": "quantitative", "axis": null},
            "x2": {"datum": 5.1},
            "y": {"datum": -0.5, "type": "quantitative", "axis": null},
            "y2": {"datum": 6.5}
          }
        },
        {
          "data": {"name": "insetLabels"},
          "mark": {"type": "text", "align": "left", "baseline": "middle", "fontSize": 11, "fontWeight": "bold", "font": "Liberation Serif", "color": "#222"},
          "encoding": {
            "x": {"field": "H", "type": "quantitative", "axis": null},
            "y": {"field": "v", "type": "quantitative", "axis": null},
            "text": {"field": "label"}
          }
        },
        {
          "data": {"name": "insetTitle"},
          "mark": {"type": "text", "align": "left", "baseline": "middle", "fontSize": 22, "font": "Liberation Serif", "color": "#222"},
          "encoding": {
            "x": {"field": "H", "type": "quantitative", "axis": null},
            "y": {"field": "v", "type": "quantitative", "axis": null},
            "text": {"field": "label"}
          }
        },
        {
          "data": {"name": "insetScripts"},
          "mark": {"type": "text", "align": "left", "baseline": "middle", "fontSize": 15, "font": "Liberation Serif", "color": "#222"},
          "encoding": {
            "x": {"field": "H", "type": "quantitative", "axis": null},
            "y": {"field": "v", "type": "quantitative", "axis": null},
            "text": {"field": "label"}
          }
        },
        {
          "data": {"name": "sites"},
          "transform": [{"filter": "datum.site === 'filled'"}],
          "mark": {"type": "point", "shape": "circle", "filled": true, "size": 22, "color": "#111"},
          "encoding": {
            "x": {"field": "H", "type": "quantitative", "axis": null},
            "y": {"field": "v", "type": "quantitative", "axis": null}
          }
        },
        {
          "data": {"name": "sites"},
          "transform": [{"filter": "datum.site === 'open'"}],
          "mark": {"type": "point", "shape": "circle", "filled": false, "size": 18, "color": "#222", "strokeWidth": 1},
          "encoding": {
            "x": {"field": "H", "type": "quantitative", "axis": null},
            "y": {"field": "v", "type": "quantitative", "axis": null}
          }
        },
        {
          "data": {"name": "sites"},
          "transform": [{"filter": "datum.site === 'triangle'"}],
          "mark": {"type": "point", "shape": "triangle-down", "filled": false, "size": 16, "color": "#222", "strokeWidth": 1},
          "encoding": {
            "x": {"field": "H", "type": "quantitative", "axis": null},
            "y": {"field": "v", "type": "quantitative", "axis": null}
          }
        }
      ]
    }
  ],
  "resolve": {"scale": {"x": "independent", "y": "independent"}}
}
